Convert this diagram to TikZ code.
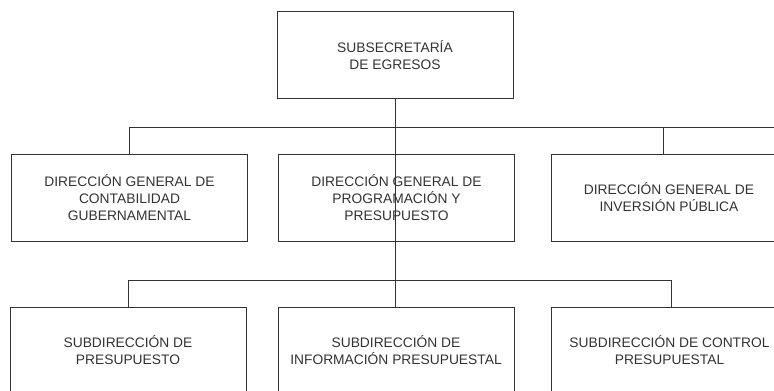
\documentclass[tikz,border=0pt]{standalone}
\usepackage{fontspec}
\setmainfont{Liberation Sans}
\usepackage{tikz}
\usepackage{color}
\definecolor{ink}{HTML}{333333}
\tikzset{
	unit/.style={draw=ink, line width=0.9pt, text=ink, align=center,
		minimum width=236pt, minimum height=87pt, inner sep=0pt,
		font=\fontsize{13.8}{17}\selectfont},
	link/.style={draw=ink, line width=0.9pt}
}

\begin{document}
\begin{tikzpicture}[x=1pt,y=-1pt]
		\useasboundingbox (0,0) rectangle (774,391);
		\clip (0,0) rectangle (774,391);
	
		\node[unit] (sub) at (395,55) {SUBSECRETARÍA\\DE EGRESOS};
		
		\node[unit] (dgcg) at (129.5,197.5) {DIRECCIÓN GENERAL DE\\CONTABILIDAD\\GUBERNAMENTAL};
		\node[unit] (dgpp) at (396.5,197.5) {DIRECCIÓN GENERAL DE\\PROGRAMACIÓN Y\\PRESUPUESTO};
		\node[unit] (dgip) at (669,197.5) {DIRECCIÓN GENERAL DE\\INVERSIÓN PÚBLICA};
		
		\node[unit] (sdp) at (128,350.5) {SUBDIRECCIÓN DE\\PRESUPUESTO};
		\node[unit] (sdip) at (396,350.5) {SUBDIRECCIÓN DE\\INFORMACIÓN PRESUPUESTAL};
		\node[unit] (sdcp) at (669.5,350.5) {SUBDIRECCIÓN DE CONTROL\\PRESUPUESTAL};
		
		\coordinate (barR) at (790,127);
		\coordinate (kIP) at (663,127);
		\coordinate (lowL) at (128,280);
		\coordinate (lowR) at (671.7,280);
		
		\draw [link] (sub.south) -- (sub.south |- sdip.north);
		\draw [link] (dgcg.north) |- (barR);
		\draw [link] (kIP) -- (kIP |- dgip.north);
		\draw [link] (sdp.north) -- (lowL) -- (lowR) -- (lowR |- sdcp.north);
	\end{tikzpicture}
\end{document}
